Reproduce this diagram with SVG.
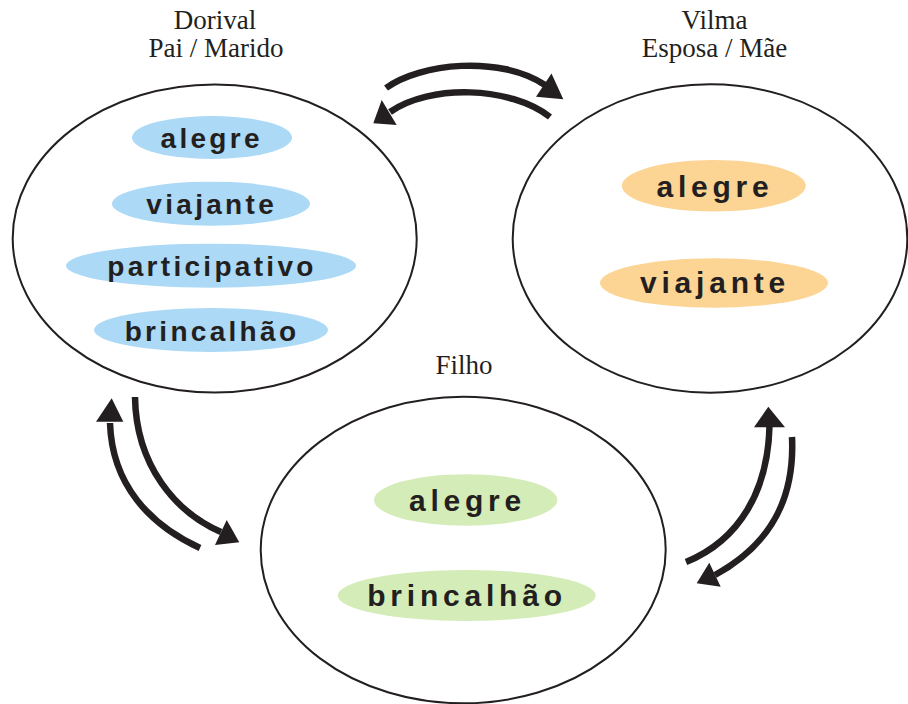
<svg xmlns="http://www.w3.org/2000/svg" width="908" height="704" viewBox="0 0 908 704">
  <defs>
    <style>
      .circle { fill: #ffffff; stroke: #231f20; stroke-width: 2; }
      .title { font-family: "Liberation Serif", "Times New Roman", serif; font-size: 27px; fill: #231f20; text-anchor: middle; }
      .trait { font-family: "Liberation Sans", Arial, sans-serif; font-weight: bold; fill: #231f20; text-anchor: middle; }
      .tight { font-size: 28px; letter-spacing: 3.3px; }
      .wide { font-size: 30px; letter-spacing: 4.8px; }
      .blue { fill: #abd9f6; }
      .orange { fill: #fcd493; }
      .green { fill: #d4ecb8; }
      .stem { fill: none; stroke: #231f20; stroke-width: 6.5; stroke-linecap: butt; }
      .head { fill: #231f20; }
    </style>
  </defs>

  <rect width="908" height="704" fill="#ffffff"/>

  <!-- Father -->
  <g id="dorival">
    <text class="title" x="215" y="29">Dorival</text>
    <text class="title" x="216" y="57">Pai / Marido</text>
    <ellipse class="circle" cx="214.7" cy="238.5" rx="202" ry="154"/>
    <ellipse class="blue" cx="212" cy="137.5" rx="80" ry="21.5"/>
    <text class="trait tight" x="211.7" y="148">alegre</text>
    <ellipse class="blue" cx="211" cy="203.7" rx="99" ry="22"/>
    <text class="trait tight" x="211.7" y="214">viajante</text>
    <ellipse class="blue" cx="211" cy="265.7" rx="145" ry="22"/>
    <text class="trait tight" x="212" y="276">participativo</text>
    <ellipse class="blue" cx="211" cy="330" rx="117" ry="22"/>
    <text class="trait tight" x="212" y="340.5">brincalhão</text>
  </g>

  <!-- Mother -->
  <g id="vilma">
    <text class="title" x="714.5" y="29">Vilma</text>
    <text class="title" x="714.5" y="57">Esposa / Mãe</text>
    <ellipse class="circle" cx="710" cy="238.5" rx="197.3" ry="154.2"/>
    <ellipse class="orange" cx="713.8" cy="185.8" rx="92" ry="25.8"/>
    <text class="trait wide" x="715" y="196.5">alegre</text>
    <ellipse class="orange" cx="714" cy="283" rx="114" ry="24.7"/>
    <text class="trait wide" x="715" y="293">viajante</text>
  </g>

  <!-- Son -->
  <g id="filho">
    <text class="title" x="464" y="374">Filho</text>
    <ellipse class="circle" cx="463.2" cy="550" rx="202.5" ry="153.3"/>
    <ellipse class="green" cx="465.7" cy="500" rx="91.7" ry="25.7"/>
    <text class="trait wide" x="467.5" y="510.5">alegre</text>
    <ellipse class="green" cx="466.7" cy="595.5" rx="129" ry="25.5"/>
    <text class="trait wide" x="467" y="606">brincalhão</text>
  </g>

  <!-- Two-way arrows between the circles -->
  <g id="connectors">
    <!-- Dorival -> Vilma -->
    <path class="stem" d="M386,88 C420,63 500,55 545,85"/>
    <polygon class="head" points="563.3,99.3 551.5,73.5 536,96.7"/>
    <!-- Vilma -> Dorival -->
    <path class="stem" d="M550,117 C510,86 430,84 390,112"/>
    <polygon class="head" points="373.3,123.3 381.7,100 396.7,125"/>

    <!-- Filho -> Dorival -->
    <path class="stem" d="M200,548 C150,525 112,485 110,423"/>
    <polygon class="head" points="111.7,398.3 96,421.7 123.3,421.7"/>
    <!-- Dorival -> Filho -->
    <path class="stem" d="M135,397 C136,465 175,512 221,532"/>
    <polygon class="head" points="239.3,542.3 226.7,520 215,545"/>

    <!-- Filho -> Vilma -->
    <path class="stem" d="M686,562 C740,540 768,490 769.5,426"/>
    <polygon class="head" points="768.3,406.7 754,427.3 785,427.3"/>
    <!-- Vilma -> Filho -->
    <path class="stem" d="M792,437 C795,500 770,545 715,575"/>
    <polygon class="head" points="696.7,583.3 709.3,562.7 720.7,586.7"/>
  </g>
</svg>
